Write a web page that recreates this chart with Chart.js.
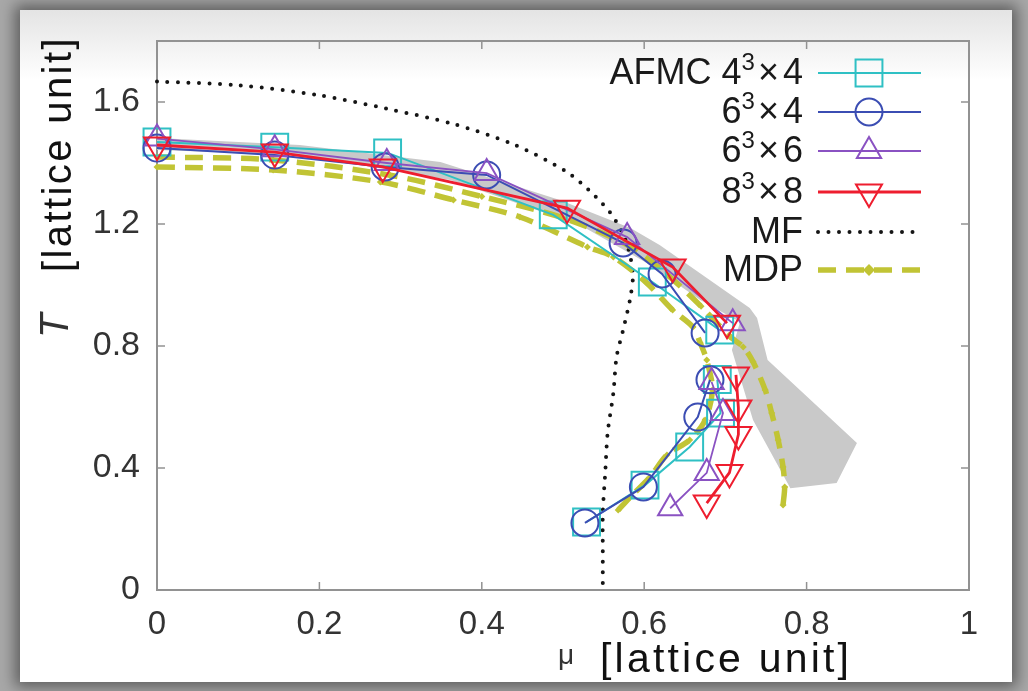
<!DOCTYPE html>
<html><head><meta charset="utf-8">
<script src="https://cdn.jsdelivr.net/npm/chart.js@4.4.1/dist/chart.umd.min.js"></script>
<style>
html,body{margin:0;padding:0;width:1028px;height:691px;overflow:hidden;background:#a8a8a8;}
#panel{position:absolute;left:20px;top:10px;width:992px;height:672px;background:linear-gradient(#e4e4e4 0px,#ffffff 70px);box-shadow:0 0 14px 5px rgba(0,0,0,0.45);}
#c{position:absolute;left:0;top:0;}
</style></head><body>
<div id="panel"></div>
<canvas id="c" width="1028" height="691"></canvas>
<script>
// ---- data ----
const xTicks = [0, 0.2, 0.4, 0.6, 0.8, 1];
const yTicks = [0, 0.4, 0.8, 1.2, 1.6];
const seriesNames = ['AFMC 4³×4', '6³×4', '6³×6', '8³×8', 'MF', 'MDP'];
const xTitle = ['μ', '[lattice unit]'];
const yTitle = ['T', '[lattice unit]'];

// null marks a break between the upper and lower branch
const afmcMu = [0, 0.145, 0.284, 0.488, 0.610, 0.693, null, 0.690, 0.694, 0.656, 0.601, 0.529];
const afmcT  = [1.469, 1.452, 1.433, 1.230, 1.010, 0.852, null, 0.690, 0.580, 0.469, 0.344, 0.223];
const s6x4Mu = [0, 0.145, 0.281, 0.406, 0.574, 0.622, 0.675, null, 0.681, 0.666, 0.599, 0.527];
const s6x4T  = [1.449, 1.426, 1.387, 1.361, 1.138, 1.036, 0.843, null, 0.689, 0.567, 0.338, 0.220];
const s6x6Mu = [0, 0.145, 0.283, 0.406, 0.579, 0.709, null, 0.683, 0.697, 0.677, 0.632];
const s6x6T  = [1.480, 1.445, 1.400, 1.367, 1.157, 0.875, null, 0.682, 0.580, 0.384, 0.268];
const s8x8Mu = [0, 0.145, 0.278, 0.505, 0.635, 0.702, null, 0.713, 0.716, 0.716, 0.705, 0.677];
const s8x8T  = [1.459, 1.436, 1.387, 1.252, 1.059, 0.875, null, 0.705, 0.597, 0.510, 0.385, 0.285];

const mfMu = [0, 0.1, 0.2, 0.283, 0.365, 0.44, 0.505, 0.54, 0.562, 0.578, 0.586, 0.583, 0.574, 0.566, 0.562, 0.555, 0.552, 0.549, 0.549, 0.549];
const mfT  = [1.667, 1.655, 1.622, 1.578, 1.528, 1.46, 1.37, 1.29, 1.223, 1.14, 1.04, 0.96, 0.852, 0.764, 0.646, 0.515, 0.384, 0.252, 0.131, 0];

const mdpAMu = [0, 0.143, 0.275, 0.365, 0.447, 0.530, 0.562, 0.603, 0.635, 0.660, 0.669, 0.677, 0.684, 0.675, 0.656, 0.628, 0.607, 0.583, 0.568];
const mdpAT  = [1.387, 1.377, 1.338, 1.279, 1.223, 1.125, 1.092, 1.007, 0.918, 0.862, 0.810, 0.754, 0.656, 0.557, 0.492, 0.443, 0.370, 0.305, 0.262];
const mdpBMu = [0, 0.143, 0.287, 0.40, 0.50, 0.58, 0.63, 0.67, 0.706, 0.722, 0.734, 0.749, 0.757, 0.765, 0.771, 0.773, 0.771];
const mdpBT  = [1.420, 1.410, 1.360, 1.290, 1.220, 1.130, 1.030, 0.930, 0.830, 0.797, 0.748, 0.656, 0.580, 0.492, 0.403, 0.338, 0.279];

const bandMu = [0, 0.176, 0.349, 0.496, 0.583, 0.619, 0.730, 0.739, 0.752, 0.862, 0.837, 0.780, 0.734, 0.708, 0.718, 0.669, 0.607, 0.521, 0.361, 0.176, 0, 0];
const bandT  = [1.482, 1.459, 1.403, 1.279, 1.187, 1.131, 0.925, 0.892, 0.754, 0.482, 0.351, 0.334, 0.557, 0.787, 0.879, 0.951, 1.066, 1.197, 1.344, 1.426, 1.443, 1.482];

function pts(mu, t) {
  return mu.map((m, i) => (m === null ? {x: NaN, y: null} : {x: m, y: t[i]}));
}

const FONT = "'Liberation Sans', Arial, Helvetica, sans-serif";
const C_CYAN = '#2fc0c4', C_BLUE = '#3b4db3', C_PURPLE = '#8a52c2', C_RED = '#ee1d2e', C_MDP = '#c1c435', C_MF = '#151515';

function markerSet(color, style, radius, rotation, lw, order) {
  return {
    borderColor: color, borderWidth: lw, pointStyle: style, pointRadius: radius, pointHoverRadius: radius,
    pointRotation: rotation, pointBorderColor: color, pointBackgroundColor: 'rgba(0,0,0,0)',
    pointBorderWidth: 2, showLine: true, tension: 0, clip: false, order: order, spanGaps: false
  };
}

const datasets = [
  Object.assign({label: seriesNames[3], data: pts(s8x8Mu, s8x8T)}, markerSet(C_RED, 'triangle', 15, 180, 2.8, 1)),
  Object.assign({label: seriesNames[2], data: pts(s6x6Mu, s6x6T)}, markerSet(C_PURPLE, 'triangle', 14, 0, 1.8, 2)),
  Object.assign({label: seriesNames[1], data: pts(s6x4Mu, s6x4T)}, markerSet(C_BLUE, 'circle', 13.5, 0, 2, 3)),
  Object.assign({label: seriesNames[0], data: pts(afmcMu, afmcT)}, markerSet(C_CYAN, 'rect', 19, 0, 2, 4)),
  {label: seriesNames[5], data: pts(mdpAMu, mdpAT), showLine: true, borderColor: C_MDP, borderWidth: 5.5, borderDash: [18, 10],
   tension: 0.3, pointStyle: 'rectRot', pointRadius: 3.5, pointBackgroundColor: C_MDP, pointBorderWidth: 0, clip: false, order: 5},
  {label: seriesNames[5] + 'b', data: pts(mdpBMu, mdpBT), showLine: true, borderColor: C_MDP, borderWidth: 5.5, borderDash: [18, 10],
   tension: 0.3, pointStyle: 'rectRot', pointRadius: 3.5, pointBackgroundColor: C_MDP, pointBorderWidth: 0, clip: false, order: 5},
  {label: seriesNames[4], data: pts(mfMu, mfT), showLine: true, borderColor: C_MF, borderWidth: 4, borderDash: [0, 10.5],
   borderCapStyle: 'round', tension: 0.3, pointRadius: 0, clip: false, order: 6},
  {label: 'band', data: pts(bandMu, bandT), showLine: true, borderWidth: 0, borderColor: 'rgba(0,0,0,0)',
   backgroundColor: '#c9c9c9', fill: 'shape', tension: 0, pointRadius: 0, clip: false, order: 7}
];

function richSpans(label, size) {
  const spans = [];
  let buf = '';
  const flush = () => { if (buf) { spans.push({t: buf, font: size + 'px ' + FONT}); buf = ''; } };
  for (const ch of label) {
    if (ch === '³') { flush(); spans.push({t: '3', font: Math.round(size * 0.66) + 'px ' + FONT, dy: -size * 0.3}); }
    else if (ch === '×') { flush(); spans.push({t: '×', font: size + 'px ' + FONT, gap: 3, gapAfter: 4}); }
    else buf += ch;
  }
  flush();
  return spans;
}
function drawRich(ctx, spans, right, y) {
  let total = 0;
  spans.forEach(s => { ctx.font = s.font; s.w = ctx.measureText(s.t).width; total += s.w + (s.gap || 0) + (s.gapAfter || 0); });
  let x = right - total;
  spans.forEach(s => { x += s.gap || 0; ctx.font = s.font; ctx.fillText(s.t, x, y + (s.dy || 0)); x += s.w + (s.gapAfter || 0); });
}

const decor = {
  id: 'decor',
  beforeDatasetsDraw(chart) {
    const {ctx, chartArea: a, scales: {x, y}} = chart;
    ctx.save();
    ctx.strokeStyle = '#929292';
    ctx.lineWidth = 2;
    ctx.strokeRect(a.left, a.top, a.right - a.left, a.bottom - a.top);
    ctx.lineWidth = 1.5;
    ctx.beginPath();
    xTicks.forEach(v => { const p = x.getPixelForValue(v); ctx.moveTo(p, a.bottom); ctx.lineTo(p, a.bottom - 8); ctx.moveTo(p, a.top); ctx.lineTo(p, a.top + 8); });
    yTicks.forEach(v => { const p = y.getPixelForValue(v); ctx.moveTo(a.left, p); ctx.lineTo(a.left + 8, p); ctx.moveTo(a.right, p); ctx.lineTo(a.right - 8, p); });
    ctx.stroke();
    ctx.restore();
  },
  afterDraw(chart) {
    const ctx = chart.ctx;
    ctx.save();
    ctx.fillStyle = '#111';
    // y title (rotated)
    ctx.save();
    ctx.translate(71, 0);
    ctx.rotate(-Math.PI / 2);
    ctx.textBaseline = 'alphabetic';
    ctx.textAlign = 'left';
    ctx.font = 'italic 40px ' + FONT;
    ctx.fillStyle = '#333';
    ctx.fillText(yTitle[0], -338, -3);
    ctx.fillStyle = '#111';
    ctx.font = '40px ' + FONT;
    try { ctx.letterSpacing = '2.4px'; } catch (e) {}
    ctx.fillText(yTitle[1], -272, 0);
    ctx.restore();
    // x title
    ctx.textBaseline = 'alphabetic';
    ctx.textAlign = 'left';
    ctx.font = '28px ' + FONT;
    ctx.fillStyle = '#333';
    try { ctx.letterSpacing = '0px'; } catch (e) {}
    ctx.fillText(xTitle[0], 558, 664);
    ctx.fillStyle = '#111';
    ctx.font = '41px ' + FONT;
    try { ctx.letterSpacing = '3.2px'; } catch (e) {}
    ctx.fillText(xTitle[1], 600, 672);
    try { ctx.letterSpacing = '0px'; } catch (e) {}
    // legend
    const rows = [73, 112, 151, 192, 232, 270];
    const styles = [datasets[3], datasets[2], datasets[1], datasets[0], datasets[6], datasets[4]];
    ctx.textBaseline = 'middle';
    styles.forEach((ds, i) => {
      const yy = rows[i];
      ctx.fillStyle = '#1a1a1a';
      drawRich(ctx, richSpans(seriesNames[i], 36), 803, yy + 1);
      ctx.save();
      ctx.strokeStyle = ds.borderColor;
      ctx.lineWidth = ds.borderWidth;
      ctx.setLineDash(ds.borderDash || []);
      ctx.lineCap = ds.borderCapStyle || 'butt';
      ctx.beginPath();
      ctx.moveTo(818, yy); ctx.lineTo(921, yy);
      ctx.stroke();
      ctx.setLineDash([]);
      if (ds.pointRadius > 0) {
        const isMdp = i === 5;
        ctx.strokeStyle = ds.pointBorderColor || ds.borderColor;
        ctx.fillStyle = isMdp ? ds.pointBackgroundColor : 'rgba(0,0,0,0)';
        ctx.lineWidth = isMdp ? 0 : 2;
        Chart.helpers.drawPoint(ctx, {pointStyle: ds.pointStyle, rotation: ds.pointRotation || 0,
          radius: isMdp ? 6 : ds.pointRadius, borderWidth: isMdp ? 0 : 2}, 869, yy);
      }
      ctx.restore();
    });
    ctx.restore();
  }
};

new Chart(document.getElementById('c'), {
  type: 'scatter',
  data: {datasets: datasets},
  plugins: [decor],
  options: {
    responsive: false,
    animation: false,
    events: [],
    layout: {padding: {left: 0, right: 59, top: 41, bottom: 0}},
    plugins: {legend: {display: false}, tooltip: {enabled: false}},
    scales: {
      x: {
        type: 'linear', min: 0, max: 1,
        afterBuildTicks: s => { s.ticks = xTicks.map(v => ({value: v})); },
        afterFit: s => { s.height = 101; },
        grid: {display: false, drawTicks: false},
        border: {display: false},
        ticks: {font: {family: FONT, size: 33}, color: '#333', padding: 15, maxRotation: 0, autoSkip: false,
                callback: v => String(v)}
      },
      y: {
        type: 'linear', min: 0, max: 1.8,
        afterBuildTicks: s => { s.ticks = yTicks.map(v => ({value: v})); },
        afterFit: s => { s.width = 157; },
        grid: {display: false, drawTicks: false},
        border: {display: false},
        ticks: {font: {family: FONT, size: 34}, color: '#333', padding: 17, autoSkip: false,
                callback: v => String(v)}
      }
    }
  }
});
</script>
</body></html>
